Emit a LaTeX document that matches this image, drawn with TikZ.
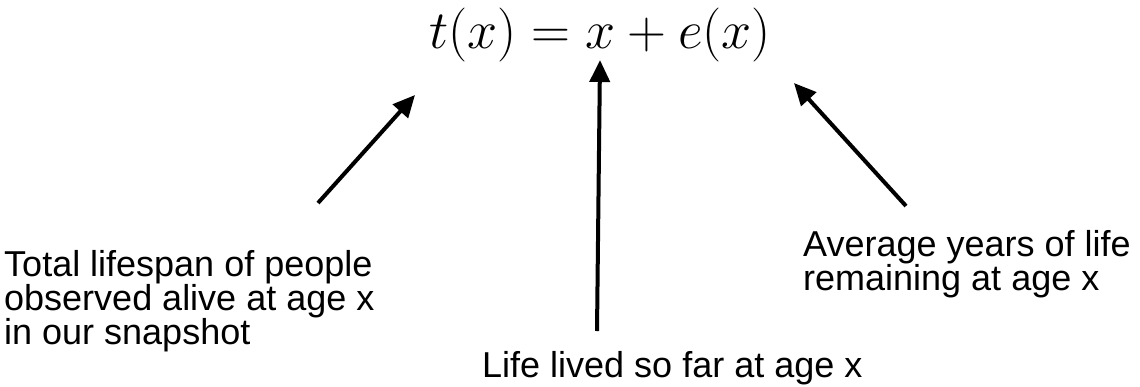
\RequirePackage{fix-cm}
\documentclass[tikz,border=0pt]{standalone}
\usepackage{fontspec}
\newfontfamily\lblfont{Liberation Sans}
\usetikzlibrary{arrows.meta}
\begin{document}
\begin{tikzpicture}[x=1pt,y=-1pt,
  lbl/.style={font=\lblfont\fontsize{36}{34}\selectfont, align=left, anchor=base west, inner sep=0pt},
  ptr/.style={line width=4pt, -{Triangle[length=22pt,width=20pt]}}]
\useasboundingbox (0,0) rectangle (1140,386);
\node[anchor=base, inner sep=0pt, font=\fontsize{54}{60}\selectfont] (eq) at (600,48) {$t(x)=x+e(x)$};
% base anchor of a multi-line node is the baseline of its last line
\node[lbl] (total) at (4,344) {Total lifespan of people\\observed alive at age x\\in our snapshot};
\node[lbl] (lived) at (482,377.5) {Life lived so far at age x};
\node[lbl] (avg) at (803,290) {Average years of life\\remaining at age x};
\coordinate (tipT) at (415,95);
\coordinate (tailT) at (318,203);
\coordinate (tipX) at (600,60);
\coordinate (tailX) at (597,331);
\coordinate (tipE) at (794,83);
\coordinate (tailE) at (906,206);
\draw[ptr] (tailT) -- (tipT);
\draw[ptr] (tailX) -- (tipX);
\draw[ptr] (tailE) -- (tipE);
\end{tikzpicture}
\end{document}
